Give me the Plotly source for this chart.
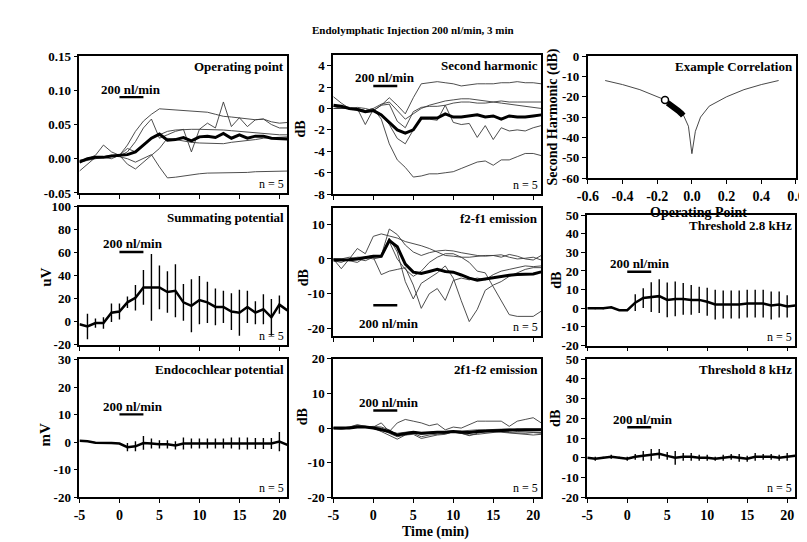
import plotly.graph_objects as go

W, H = 807, 542
FONT = "Liberation Serif"

# ---------------- data ----------------
time_min = list(range(-5, 22))
time_ticks = [-5, 0, 5, 10, 15, 20]
time_ticklabels = ["-5", "0", "5", "10", "15", "20"]

# Operating point (5 ears + mean)
op_a = [-0.005, -0.002, 0.0, 0.002, 0.003, 0.005, 0.02, 0.04, 0.055, 0.065, 0.073, 0.072, 0.071, 0.07, 0.07,
        0.069, 0.068, 0.065, 0.062, 0.061, 0.06, 0.058, 0.057, 0.058, 0.054, 0.052, 0.053]
op_b = [-0.003, 0.0, 0.002, 0.003, 0.005, 0.004, 0.01, 0.025, 0.045, 0.058, 0.03, 0.035, 0.04, 0.043, 0.01,
        0.043, 0.052, 0.045, 0.083, 0.047, 0.06, 0.047, 0.057, 0.058, 0.05, 0.045, 0.045]
op_c = [-0.002, 0.0, 0.005, 0.02, 0.01, 0.005, 0.015, 0.01, 0.02, 0.03, 0.035, 0.04, 0.042, 0.043, 0.043,
        0.043, 0.043, 0.042, 0.042, 0.041, 0.04, 0.039, 0.038, 0.036, 0.035, 0.035, 0.035]
op_d = [-0.018, -0.008, 0.002, 0.002, 0.0, 0.005, -0.008, -0.015, -0.005, 0.005, 0.015, 0.03, 0.028, 0.025, 0.024,
        0.023, 0.023, 0.022, 0.022, 0.024, 0.025, 0.027, 0.028, 0.03, 0.031, 0.032, 0.032]
op_e = [-0.005, -0.001, 0.002, 0.003, 0.004, 0.003, 0.0, -0.005, 0.0, 0.006, -0.012, -0.028, -0.027, -0.025, -0.023,
        -0.022, -0.021, -0.021, -0.02, -0.02, -0.02, -0.02, -0.019, -0.019, -0.018, -0.018, -0.018]
op_mean = [-0.005, 0.0, 0.002, 0.002, 0.004, 0.005, 0.006, 0.01, 0.02, 0.03, 0.036, 0.027, 0.028, 0.031, 0.026,
           0.032, 0.033, 0.031, 0.037, 0.03, 0.035, 0.03, 0.033, 0.033, 0.03, 0.03, 0.029]

# Second harmonic (dB)
sh_a = [1.1, 0.5, 0.0, -0.1, -0.2, -0.2, 0.3, 1.0, 0.3, -0.5, 1.0, 2.3, 2.4, 2.5, 2.4, 2.3, 2.1, 2.2, 2.3, 2.3,
        2.3, 2.4, 2.4, 2.5, 2.4, 2.4, 2.3]
sh_b = [0.2, 0.1, 0.0, 0.0, -0.2, 0.0, 0.4, 0.6, -0.2, -1.0, -0.5, 0.0, 0.3, 0.5, 0.7, 0.8, 0.9, 0.9, 0.8, 0.7,
        0.6, 0.7, 0.6, 0.6, 0.6, 0.6, 0.6]
sh_c = [0.0, 0.0, 0.0, 0.1, 0.0, -0.2, 0.3, 0.4, -1.2, -1.8, -0.3, 0.1, 0.2, 0.2, 0.3, 0.5, 0.6, 0.6, 0.5, 0.5,
        0.6, 0.5, 0.4, 0.3, 0.2, 0.1, 0.0]
sh_d = [0.0, 0.0, 0.0, 0.0, -1.5, -0.1, -0.5, -1.5, -2.8, -3.3, -2.0, -1.0, -1.0, -1.1, 0.3, -1.3, -1.5, -1.4,
        -2.7, -1.6, -2.9, -1.8, -2.1, -2.0, -2.1, -1.8, -1.6]
sh_e = [0.2, 0.0, 0.0, 0.0, -0.2, 0.0, -1.0, -3.3, -4.8, -5.5, -6.4, -6.3, -6.1, -6.1, -6.0, -5.9, -5.6, -5.3,
        -5.0, -4.9, -5.3, -4.8, -4.8, -4.5, -4.2, -4.2, -4.4]
sh_mean = [0.3, 0.2, 0.0, -0.1, -0.3, -0.2, -0.6, -1.3, -2.0, -2.3, -2.0, -0.9, -0.9, -0.9, -0.5, -0.8, -0.8,
           -0.7, -0.6, -0.8, -0.7, -1.0, -0.7, -0.8, -0.8, -0.7, -0.6]

# Example correlation
corr_op = [-0.5, -0.4, -0.3, -0.2, -0.15, -0.1, -0.05, -0.02, 0.0, 0.02, 0.05, 0.1, 0.2, 0.3, 0.4, 0.5]
corr_sh = [-12, -14, -16.5, -19.8, -21.7, -24.5, -28.8, -34.5, -48, -37, -30, -24.6, -20, -16.5, -14, -12]
seg_op = [-0.14, -0.12, -0.1, -0.08, -0.06, -0.05]
seg_sh = [-23, -24, -25.3, -26.8, -28.3, -29.3]
start_op = [-0.155]
start_sh = [-21.6]

# Summating potential (uV)
sp_mean = [-2, -4, -1, -1, 8, 9, 17, 21, 30, 30, 30, 26, 27, 17, 14, 19, 17, 13, 13, 9, 8, 13, 8, 11, 4, 15, 10]
sp_err = [0, 11, 4, 5, 8, 7, 5, 11, 15, 29, 19, 18, 23, 16, 23, 21, 18, 16, 14, 16, 20, 14, 10, 13, 16, 8, 0]

# f2-f1 emission (dB)
f21_a = [-0.5, -1, 0, 0.5, 0.5, 1.0, 1.0, 8.6, 7, 4, 2, 1, 1.8, 2.3, 2.5, 2.3, 1.8, 1.3, 1.0, 0.8, 1.0, 1.2,
         0.5, 0, 0.2, 0.5, -0.3]
f21_b = [0, -2.8, 0, 3, 1.5, 6.5, 7.2, 6.5, 6, 5, 4.5, 3.8, 3, 2.0, 1.0, 0.8, 0.5, 0.5, 0.8, 1.0, 1.0, 0.5,
         1.3, 0.8, 0, -0.3, 1.0]
f21_c = [0, 0, -0.5, -1, 0.5, 0.5, -4.5, -3.5, -3.0, -2.5, -7.5, -14.2, -10, -8.5, -11.9, -6.2, -5.5, -6,
         -5.5, -6, -4.5, -3.5, -3, -2.5, -2, -2.2, -2]
f21_d = [0, 0, 0.5, 0, -0.5, 0.5, 1, 6, 2, -6.5, -11.5, -7, -5.5, -4, -2, -5.5, -12, -18, -14.5, -9, -7.5, -6.5,
         -5, -4, -3, -2.5, -2.5]
f21_e = [0, -0.5, 0, 0.3, 0.5, 0, 0.5, 5, 0, -3, -5, -3.5, -1, 0.5, 1.5, 1.5, 0.5, -1, -3.5, -4, -8, -12, -16,
         -16.5, -16.5, -16.5, -15]
f21_mean = [-0.3, -0.3, -0.2, 0, 0.5, 0.8, 0.8, 5.3, 3.5, -1.5, -3.8, -4.2, -3.6, -3.0, -3.6, -3.8, -4.6, -5.5,
            -6.1, -5.7, -5.5, -5.0, -4.7, -4.5, -4.4, -4.3, -3.7]

# Threshold 2.8 kHz (dB)
t28_mean = [0, 0, 0, 0.5, -1, -1, 3, 5.5, 6, 6.5, 4.5, 5, 5, 4.5, 4.5, 3.5, 2, 2, 2, 2, 2.5, 2.5, 2.5, 1.5, 2,
            1, 1.5]
t28_err = [0, 0.5, 0.5, 0.5, 0.5, 0.5, 4.5, 5.3, 8, 9, 9.3, 9.3, 8.5, 8, 7, 7.5, 8, 7.5, 7.5, 7.5, 7.5, 7.5, 7.5,
           7.5, 7, 6, 0]

# Endocochlear potential (mV)
ep_mean = [0.5, 0.3, -0.2, -0.2, -0.3, -0.5, -1.8, -1.5, -0.3, -0.5, -0.8, -0.8, -1.2, -0.5, -0.5, -0.5, -0.5,
           -0.5, -0.5, -0.3, -0.5, -0.5, -0.5, -0.5, -0.5, 0.2, -1.0]
ep_err = [0, 0, 0, 0, 0, 0, 1.5, 1.8, 2.5, 1.8, 1.5, 1.5, 1.5, 2.2, 1.8, 1.8, 1.8, 1.8, 1.8, 2, 2.2, 2.2, 2,
          2, 2, 3.5, 0]

# 2f1-f2 emission (dB)
d2_a = [0, 0, 0.3, 0.8, 0.5, 0.3, 1.5, -1.0, 1.5, 2.5, 2.0, 1.5, 0.7, 1.2, -0.5, 0.3, 0, 1.0, 2.0, 2.0, 2.0,
        2.0, 0.5, 2.0, 2.5, 3.0, 1.5]
d2_b = [0, -0.3, 0, 0.5, 0.3, 0, -0.5, -1.5, -2.5, -2, -1.5, -2.5, -2, -1.8, -1.5, -1.2, -1.5, -2.0, -1.8, -1.5,
        -1.2, -1.0, -1.3, -1.5, -1.5, -1.3, -1.5]
d2_c = [0, 0, 0.2, 0.5, 0.3, 0, -1.0, -2, -3.2, -2, -1.8, -3, -2.5, -2, -1.8, -1, -1.5, -2.2, -1.5, -1, -1, -1.2,
        -1.5, -1.5, -1.8, -2, -1.8]
d2_d = [0.2, 0, 0.3, 1.0, 0.5, 0.2, 0, -1, -1.5, -1.2, -1, -1.5, -1.2, -1, -1, -0.8, -1, -1.2, -1, -0.8, -0.8,
        -0.8, -0.5, -1, -1, -1.2, -1.3]
d2_e = [-0.2, -0.3, 0, 0.5, 0.3, 0.5, 0.3, -0.5, -2, -1.5, -1.2, -1.8, -1.5, -1.2, -1, -1, -0.8, -0.8, -0.5,
        -0.5, -0.5, -0.3, -0.2, -0.5, -0.3, -0.2, -0.3]
d2_mean = [0, 0, 0, 0.3, 0.3, 0, -0.5, -1.0, -2.0, -1.5, -1.2, -1.5, -1.3, -1.2, -1.2, -1.0, -1.2, -1.3, -1.0,
           -0.8, -0.8, -0.7, -0.5, -0.5, -0.5, -0.5, -0.5]

# Threshold 8 kHz (dB)
t8_mean = [0, -0.5, 0, 0.5, 0, -0.5, 0.5, 1, 1.5, 2, 1, 0, 0.5, 0.5, 0, 0, -0.5, 0, 0.5, 0, -0.5, 0.5, 0.5, 0.5,
           0, 0.5, 1]
t8_err = [0, 1, 0.5, 1, 0.5, 1, 1.5, 2.5, 3, 2.5, 2, 3.5, 2, 2, 1.5, 1.5, 1, 1.5, 1.5, 2, 1.5, 2, 1.5, 1.5, 1.5,
          2, 0]

# ---------------- layout helpers ----------------
def xd(a, b):
    return [a / W, b / W]


def yd(top, bot):
    return [1 - bot / H, 1 - top / H]


C1, C2, C3 = (62, 275.2), (322.3, 535.5), (582.7, 795.9)

panels = {
    1: dict(xdom=C1, ydom=(42.3, 183.0), yr=[-0.05, 0.15], yt=[-0.05, 0, 0.05, 0.10, 0.15],
            ytt=["-0.05", "0.00", "0.05", "0.10", "0.15"], xlab=False, title="Operating point"),
    2: dict(xdom=C2, ydom=(41.0, 184.3), yr=[-8, 5], yt=[-8, -6, -4, -2, 0, 2, 4],
            ytt=["-8", "-6", "-4", "-2", "0", "2", "4"], xlab=False, title="Second harmonic"),
    4: dict(xdom=C1, ydom=(197.3, 339.3), yr=[-20, 100], yt=[-20, 0, 20, 40, 60, 80, 100],
            ytt=["-20", "0", "20", "40", "60", "80", "100"], xlab=False, title="Summating potential"),
    5: dict(xdom=C2, ydom=(199.0, 330.0), yr=[-22.1, 14.5], yt=[-20, -10, 0, 10],
            ytt=["-20", "-10", "0", "10"], xlab=False, title="f2-f1 emission"),
    6: dict(xdom=C3, ydom=(205.7, 340.0), yr=[-20, 50], yt=[-20, -10, 0, 10, 20, 30, 40, 50],
            ytt=["-20", "-10", "0", "10", "20", "30", "40", "50"], xlab=False, title="Threshold 2.8 kHz"),
    7: dict(xdom=C1, ydom=(354.3, 496.0), yr=[-20, 30], yt=[-20, -10, 0, 10, 20, 30],
            ytt=["-20", "-10", "0", "10", "20", "30"], xlab=True, title="Endocochlear potential"),
    8: dict(xdom=C2, ydom=(353.7, 496.0), yr=[-20, 20], yt=[-20, -10, 0, 10, 20],
            ytt=["-20", "-10", "0", "10", "20"], xlab=True, title="2f1-f2 emission"),
    9: dict(xdom=C3, ydom=(354.0, 496.0), yr=[-20, 50], yt=[-20, -10, 0, 10, 20, 30, 40, 50],
            ytt=["-20", "-10", "0", "10", "20", "30", "40", "50"], xlab=True, title="Threshold 8 kHz"),
}

AX_COMMON = dict(showline=True, linecolor="black", linewidth=1.8, mirror=True, showgrid=False,
                 zeroline=False, ticks="outside", ticklen=4, tickwidth=1.3, tickcolor="black",
                 fixedrange=True)
TICKFONT_Y = dict(family=FONT, size=13, color="black", weight="bold")
TICKFONT_X = dict(family=FONT, size=14, color="black", weight="bold")
TITLE_FONT = dict(family=FONT, size=13, color="black", weight="bold")


def ax_name(n, axis):
    return axis if n == 1 else f"{axis}{n}"


fig = go.Figure()
layout = dict(width=W, height=H, margin=dict(l=0, r=0, t=0, b=0), paper_bgcolor="white",
              plot_bgcolor="white", showlegend=False, font=dict(family=FONT, color="black"))
annotations = []
shapes = []

for n, p in panels.items():
    layout["xaxis" if n == 1 else f"xaxis{n}"] = dict(
        AX_COMMON, domain=xd(*p["xdom"]), range=[-5, 21], tickvals=time_ticks, ticktext=time_ticklabels,
        showticklabels=p["xlab"], tickfont=TICKFONT_X, anchor=ax_name(n, "y"))
    layout["yaxis" if n == 1 else f"yaxis{n}"] = dict(
        AX_COMMON, domain=yd(*p["ydom"]), range=p["yr"], tickvals=p["yt"], ticktext=p["ytt"],
        tickfont=TICKFONT_Y, anchor=ax_name(n, "x"))
    annotations.append(dict(xref=f"{ax_name(n, 'x')} domain", yref=f"{ax_name(n, 'y')} domain", x=1, y=1,
                            xanchor="right", yanchor="top", xshift=-1, yshift=-1, showarrow=False,
                            text=p["title"], font=TITLE_FONT))
    annotations.append(dict(xref=f"{ax_name(n, 'x')} domain", yref=f"{ax_name(n, 'y')} domain", x=1, y=0,
                            xanchor="right", yanchor="bottom", xshift=-1, yshift=0, showarrow=False,
                            text="n = 5", font=dict(family=FONT, size=12, color="black")))

# correlation panel axes
layout["xaxis3"] = dict(AX_COMMON, domain=xd(583.3, 796.7), range=[-0.6, 0.6],
                        tickvals=[-0.6, -0.4, -0.2, 0, 0.2, 0.4, 0.6],
                        ticktext=["-0.6", "-0.4", "-0.2", "0.0", "0.2", "0.4", "0.6"],
                        tickfont=TICKFONT_X, anchor="y3")
layout["yaxis3"] = dict(AX_COMMON, domain=yd(42.3, 167.7), range=[-60, 0],
                        tickvals=[-60, -50, -40, -30, -20, -10, 0],
                        ticktext=["-60", "-50", "-40", "-30", "-20", "-10", "0"],
                        tickfont=TICKFONT_Y, anchor="x3")
annotations.append(dict(xref="x3 domain", yref="y3 domain", x=1, y=1, xanchor="right", yanchor="top",
                        xshift=-1, yshift=-1, showarrow=False, text="Example Correlation",
                        font=TITLE_FONT))

THIN = dict(color="#3a3a3a", width=0.9)
THICK = dict(color="black", width=3)


def add_lines(n, series, mean):
    xa, ya = ax_name(n, "x"), ax_name(n, "y")
    for s in series:
        fig.add_trace(go.Scatter(x=time_min, y=s, mode="lines", line=THIN, xaxis=xa, yaxis=ya,
                                 hoverinfo="skip"))
    fig.add_trace(go.Scatter(x=time_min, y=mean, mode="lines", line=THICK, xaxis=xa, yaxis=ya))


def add_err(n, mean, err):
    xa, ya = ax_name(n, "x"), ax_name(n, "y")
    fig.add_trace(go.Scatter(x=time_min, y=mean, mode="lines", line=dict(color="black", width=2.5),
                             error_y=dict(type="data", array=err, visible=True, color="black",
                                          thickness=1.4, width=0),
                             xaxis=xa, yaxis=ya))


add_lines(1, [op_a, op_b, op_c, op_d, op_e], op_mean)
add_lines(2, [sh_a, sh_b, sh_c, sh_d, sh_e], sh_mean)
add_err(4, sp_mean, sp_err)
add_lines(5, [f21_a, f21_b, f21_c, f21_d, f21_e], f21_mean)
add_err(6, t28_mean, t28_err)
add_err(7, ep_mean, ep_err)
add_lines(8, [d2_a, d2_b, d2_c, d2_d, d2_e], d2_mean)
add_err(9, t8_mean, t8_err)

# correlation traces
fig.add_trace(go.Scatter(x=corr_op, y=corr_sh, mode="lines", line=dict(color="#333", width=0.9),
                         xaxis="x3", yaxis="y3"))
fig.add_trace(go.Scatter(x=seg_op, y=seg_sh, mode="lines", line=dict(color="black", width=6),
                         xaxis="x3", yaxis="y3"))
fig.add_trace(go.Scatter(x=start_op, y=start_sh, mode="markers",
                         marker=dict(color="white", size=7, line=dict(color="black", width=1.5)),
                         xaxis="x3", yaxis="y3"))

# "200 nl/min" labels with infusion bars (t = 0..3)
infusion = {1: (1.4, 0.101, 0.090), 2: (1.5, 2.85, 2.1), 4: (1.7, 68, 60.7), 5: (2.0, -18.6, -13.3),
            6: (1.6, 23.8, 19.6), 7: (1.7, 12.9, 10.1), 8: (2.0, 7.5, 5.1), 9: (2.0, 19.6, 15.5)}
for n, (tx, ty, by) in infusion.items():
    xa, ya = ax_name(n, "x"), ax_name(n, "y")
    annotations.append(dict(xref=xa, yref=ya, x=tx, y=ty, showarrow=False, text="200 nl/min",
                            font=TITLE_FONT))
    shapes.append(dict(type="line", xref=xa, yref=ya, x0=0, x1=3, y0=by, y1=by,
                       line=dict(color="black", width=2.4)))

# axis titles (pixel positions)
def ann_px(text, x, y, size=13, angle=0):
    annotations.append(dict(xref="paper", yref="paper", x=x / W, y=1 - y / H, showarrow=False, text=text,
                            textangle=angle, xanchor="center", yanchor="middle",
                            font=dict(family=FONT, size=size, color="black", weight="bold")))


ann_px("uV", 27, 270, 15, -90)
ann_px("mV", 27, 432, 15, -90)
ann_px("dB", 289, 117, 14, -90)
ann_px("dB", 292, 270, 14, -90)
ann_px("dB", 291, 413, 14, -90)
ann_px("dB", 551, 273, 14, -90)
ann_px("dB", 550, 415, 14, -90)
ann_px("Second Harmonic (dB)", 548, 105, 14, -90)
ann_px("Operating Point", 697, 203, 14)
ann_px("Time (min)", 427, 532, 14)
ann_px("Endolymphatic Injection 200 nl/min, 3 min", 404, 15, 11)

layout["annotations"] = annotations
layout["shapes"] = shapes
fig.update_layout(**layout)
fig.write_html("out.html")
